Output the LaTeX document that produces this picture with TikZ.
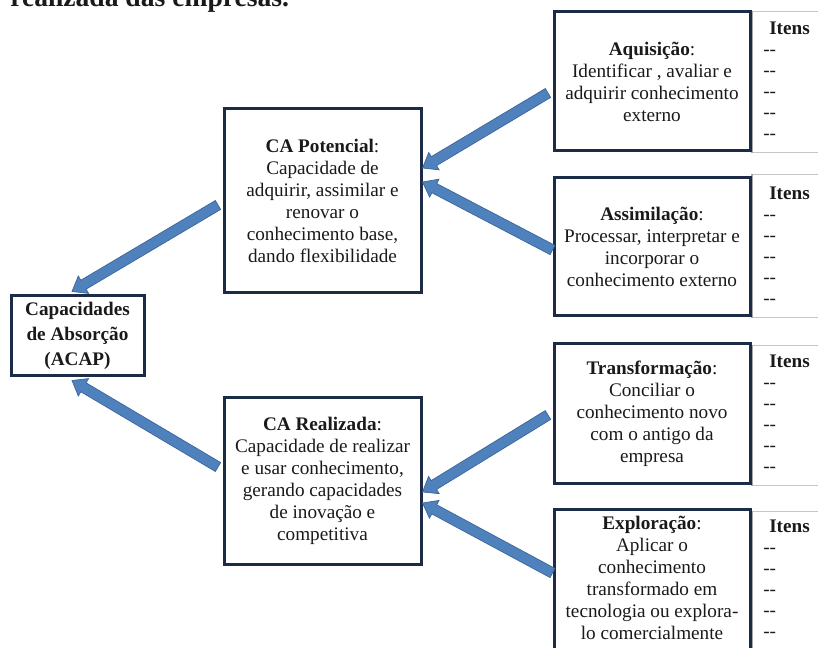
\documentclass[tikz,border=0pt]{standalone}
\usepackage{fontspec}
\setmainfont{Liberation Serif}
\usetikzlibrary{calc}

\definecolor{boxline}{HTML}{1C2B46}
\definecolor{arrowfill}{HTML}{4F81BD}
\definecolor{arrowline}{HTML}{3A6498}
\definecolor{inktext}{HTML}{1A1A1A}

\tikzset{
  bodyfont/.style={font=\fontsize{14.4}{16.5}\selectfont},
  conceptbox/.style={draw=boxline, line width=2.25pt, fill=white, bodyfont,
    align=center, inner sep=2pt, text=inktext},
  itensbox/.style={draw=gray!45, line width=0.5pt, fill=white},
  itenslist/.style={font=\fontsize{14.4}{15.75}\selectfont, align=left,
    inner sep=0pt, text=inktext},
  blockarrow/.style={fill=arrowfill, draw=arrowline, line width=0.5pt, line join=miter},
}

% block arrow from #1 to #2 (shaft, neck and head)
\newcommand\blockarrow[2]{%
  \draw[blockarrow] let \p1=(#1), \p2=(#2), \p3=($(#2)!10pt!(#1)$) in
    ($(\p1)!3.9pt!90:(\p2)$) -- ($(\p3)!3.9pt!-90:(\p1)$) --
    ($(\p3)!7.6pt!-90:(\p1)$) -- (\p2) --
    ($(\p3)!7.6pt!90:(\p1)$) -- ($(\p3)!3.9pt!90:(\p1)$) --
    ($(\p1)!3.9pt!-90:(\p2)$) -- cycle;
}
\newcommand\itemdash{\mbox{-{}-}}

\begin{document}
\begin{tikzpicture}[x=0.75pt, y=-0.75pt]
\useasboundingbox (0,0) rectangle (818,648);
\fill[white] (0,0) rectangle (818,648);

% heading line of the surrounding text (its upper half lies above the page)
\node[anchor=base west, inner sep=0pt, font=\fontsize{20.7}{24}\selectfont\bfseries, text=inktext]
  (heading) at (10,7) {realizada das empresas.};

% main concepts
\node[conceptbox, font=\fontsize{14.4}{18.5}\selectfont\bfseries,
  minimum width=99.75pt, minimum height=60pt] (acap) at (77.5,336)
  {Capacidades\\de Absorção\\(ACAP)};

\node[conceptbox, minimum width=147.75pt, minimum height=138pt] (pot) at (322.5,201)
  {\textbf{CA Potencial}:\\Capacidade de\\adquirir, assimilar e\\renovar o\\conhecimento base,\\dando flexibilidade};

\node[conceptbox, minimum width=147.75pt, minimum height=124.5pt] (rea) at (322.5,481)
  {\textbf{CA Realizada}:\\Capacidade de realizar\\e usar conhecimento,\\gerando capacidades\\de inovação e\\competitiva};

% item panels on the right
\node[itensbox, anchor=north west, minimum width=60pt, minimum height=105.75pt] (aqi) at (752,11) {};
\node[itensbox, anchor=north west, minimum width=60pt, minimum height=107.25pt] (asi) at (752,174) {};
\node[itensbox, anchor=north west, minimum width=60pt, minimum height=105pt] (tri) at (752,345) {};
\node[itensbox, anchor=north west, minimum width=60pt, minimum height=120pt] (exi) at (752,511) {};
\foreach \p in {aqi,asi,tri,exi}{
  \draw[gray!70, line width=1.2pt] (\p.north west) -- (\p.south west);
}

\node[itenslist, anchor=north west] (aqt) at ($(aqi.north west)+(11,11)$)
  {\hspace{4.5pt}\textbf{Itens}\\\itemdash\\\itemdash\\\itemdash\\\itemdash\\\itemdash};
\node[itenslist, anchor=north west] (ast) at ($(asi.north west)+(11,13)$)
  {\hspace{4.5pt}\textbf{Itens}\\\itemdash\\\itemdash\\\itemdash\\\itemdash\\\itemdash};
\node[itenslist, anchor=north west] (trt) at ($(tri.north west)+(11,10)$)
  {\hspace{4.5pt}\textbf{Itens}\\\itemdash\\\itemdash\\\itemdash\\\itemdash\\\itemdash};
\node[itenslist, anchor=north west] (ext) at ($(exi.north west)+(11,9)$)
  {\hspace{4.5pt}\textbf{Itens}\\\itemdash\\\itemdash\\\itemdash\\\itemdash\\\itemdash};

% dimensions
\node[conceptbox, minimum width=147pt, minimum height=104.25pt] (aq) at (652,81.5)
  {\textbf{Aquisição}:\\Identificar , avaliar e\\adquirir conhecimento\\externo};
\node[conceptbox, minimum width=147pt, minimum height=103.5pt] (as) at (652,247)
  {\textbf{Assimilação}:\\Processar, interpretar e\\incorporar o\\conhecimento externo};
\node[conceptbox, minimum width=147pt, minimum height=105pt] (tr) at (652,414)
  {\textbf{Transformação}:\\Conciliar o\\conhecimento novo\\com o antigo da\\empresa};
\node[conceptbox, minimum width=147pt, minimum height=118.5pt] (ex) at (652,589) {};
\node[bodyfont, align=center, inner sep=0pt, text=inktext] (exlabel) at (652,578)
  {\textbf{Exploração}:\\Aplicar o\\conhecimento\\transformado em\\tecnologia ou explora-\\lo comercialmente};

% arrow end points on the box edges
\coordinate (a1s) at ($(aq.west)+(-4.5,11.5)$);
\coordinate (a1e) at ($(pot.east)+(0,-33)$);
\coordinate (a2s) at ($(as.west)+(0,3)$);
\coordinate (a2e) at ($(pot.east)+(0,-19)$);
\coordinate (a3s) at ($(tr.west)+(-4.5,1)$);
\coordinate (a3e) at ($(rea.east)+(0,11)$);
\coordinate (a4s) at ($(ex.west)+(0,-16)$);
\coordinate (a4e) at ($(rea.east)+(0,22)$);
\coordinate (a5s) at ($(pot.west)+(-4.5,4)$);
\coordinate (a5e) at ($(acap.north)+(-5.5,-3)$);
\coordinate (a6s) at ($(rea.west)+(-4.5,-14)$);
\coordinate (a6e) at ($(acap.south)+(-5.5,3)$);

\blockarrow{a1s}{a1e}
\blockarrow{a2s}{a2e}
\blockarrow{a3s}{a3e}
\blockarrow{a4s}{a4e}
\blockarrow{a5s}{a5e}
\blockarrow{a6s}{a6e}
\end{tikzpicture}
\end{document}
